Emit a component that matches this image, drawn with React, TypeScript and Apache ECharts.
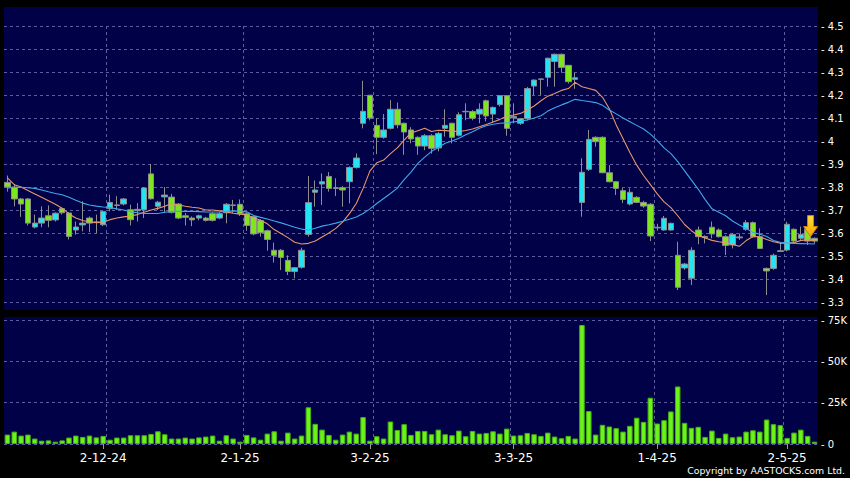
import React, { useEffect, useRef } from "react";
import * as echarts from "echarts";

// [open, close, low, high]
const candles: number[][] = [
  [3.82, 3.8, 3.78, 3.85], [3.8, 3.748, 3.716, 3.813], [3.748, 3.726, 3.67, 3.752], [3.748, 3.643, 3.633, 3.752],
  [3.626, 3.643, 3.62, 3.68], [3.643, 3.665, 3.625, 3.716], [3.675, 3.655, 3.625, 3.72], [3.657, 3.686, 3.65, 3.69],
  [3.706, 3.688, 3.68, 3.71], [3.687, 3.585, 3.572, 3.69], [3.613, 3.626, 3.593, 3.65], [3.635, 3.643, 3.607, 3.738],
  [3.665, 3.643, 3.604, 3.672], [3.645, 3.648, 3.6, 3.68], [3.636, 3.694, 3.63, 3.696], [3.706, 3.733, 3.694, 3.767],
  [3.72, 3.722, 3.7, 3.76], [3.726, 3.748, 3.72, 3.752], [3.701, 3.658, 3.633, 3.723], [3.697, 3.703, 3.65, 3.73],
  [3.701, 3.796, 3.665, 3.8], [3.857, 3.749, 3.745, 3.9], [3.716, 3.734, 3.7, 3.74], [3.757, 3.765, 3.687, 3.8],
  [3.756, 3.69, 3.685, 3.77], [3.726, 3.665, 3.66, 3.73], [3.675, 3.668, 3.633, 3.687], [3.665, 3.657, 3.63, 3.672],
  [3.665, 3.675, 3.655, 3.68], [3.665, 3.655, 3.65, 3.67], [3.684, 3.655, 3.65, 3.69], [3.665, 3.684, 3.66, 3.69],
  [3.688, 3.725, 3.642, 3.73], [3.72, 3.722, 3.686, 3.744], [3.725, 3.684, 3.674, 3.746], [3.684, 3.633, 3.61, 3.69],
  [3.671, 3.596, 3.59, 3.675], [3.654, 3.601, 3.584, 3.66], [3.61, 3.572, 3.523, 3.615], [3.525, 3.503, 3.471, 3.558],
  [3.525, 3.494, 3.439, 3.53], [3.481, 3.433, 3.417, 3.503], [3.433, 3.449, 3.403, 3.452], [3.451, 3.525, 3.445, 3.536],
  [3.594, 3.732, 3.584, 3.848], [3.777, 3.787, 3.714, 3.828], [3.813, 3.823, 3.722, 3.859], [3.846, 3.794, 3.78, 3.865],
  [3.794, 3.797, 3.761, 3.838], [3.797, 3.787, 3.714, 3.804], [3.823, 3.885, 3.729, 3.89], [3.885, 3.926, 3.88, 3.946],
  [4.077, 4.129, 4.055, 4.262], [4.199, 4.1, 4.09, 4.2], [4.068, 4.016, 3.943, 4.099], [4.016, 4.048, 4.01, 4.117],
  [4.055, 4.138, 4.05, 4.178], [4.138, 4.07, 4.055, 4.167], [4.077, 4.039, 3.94, 4.08], [4.048, 4.009, 3.99, 4.06],
  [4.016, 3.978, 3.94, 4.02], [3.978, 4.023, 3.96, 4.03], [4.023, 3.968, 3.945, 4.03], [3.97, 4.033, 3.955, 4.04],
  [4.055, 4.068, 4.019, 4.138], [4.077, 4.016, 3.99, 4.08], [4.025, 4.114, 4.02, 4.125], [4.127, 4.129, 4.09, 4.164],
  [4.128, 4.099, 4.09, 4.135], [4.117, 4.138, 4.077, 4.164], [4.175, 4.109, 4.085, 4.18], [4.117, 4.146, 4.08, 4.15],
  [4.158, 4.197, 4.15, 4.2], [4.197, 4.055, 4.023, 4.2], [4.101, 4.107, 4.077, 4.164], [4.077, 4.097, 4.07, 4.1],
  [4.097, 4.228, 4.09, 4.235], [4.239, 4.265, 4.2, 4.268], [4.268, 4.27, 4.2, 4.272], [4.277, 4.36, 4.236, 4.362],
  [4.346, 4.377, 4.236, 4.38], [4.377, 4.32, 4.297, 4.38], [4.329, 4.258, 4.25, 4.33], [4.268, 4.275, 4.227, 4.297],
  [3.733, 3.864, 3.671, 3.925], [3.877, 4.007, 3.87, 4.048], [4.016, 3.997, 3.975, 4.02], [4.016, 3.862, 3.86, 4.02],
  [3.862, 3.823, 3.82, 3.895], [3.823, 3.794, 3.765, 3.826], [3.784, 3.746, 3.73, 3.795], [3.726, 3.777, 3.72, 3.794],
  [3.755, 3.733, 3.73, 3.76], [3.733, 3.717, 3.71, 3.74], [3.725, 3.587, 3.565, 3.73], [3.622, 3.625, 3.61, 3.64],
  [3.613, 3.664, 3.61, 3.674], [3.613, 3.642, 3.61, 3.645], [3.503, 3.364, 3.352, 3.562], [3.448, 3.465, 3.44, 3.47],
  [3.403, 3.525, 3.374, 3.538], [3.613, 3.584, 3.551, 3.628], [3.585, 3.58, 3.555, 3.59], [3.625, 3.596, 3.577, 3.65],
  [3.613, 3.584, 3.58, 3.62], [3.584, 3.546, 3.504, 3.59], [3.548, 3.594, 3.533, 3.6], [3.579, 3.583, 3.57, 3.598],
  [3.616, 3.645, 3.61, 3.656], [3.645, 3.584, 3.58, 3.65], [3.584, 3.533, 3.53, 3.62], [3.446, 3.435, 3.33, 3.45],
  [3.446, 3.503, 3.44, 3.51], [3.52, 3.523, 3.519, 3.558], [3.526, 3.638, 3.52, 3.649], [3.616, 3.565, 3.56, 3.62],
  [3.577, 3.594, 3.57, 3.628], [3.616, 3.565, 3.548, 3.62], [3.577, 3.565, 3.553, 3.58],
];

const volumes: number[] = [
  5700, 7500, 5100, 5700, 3300, 2000, 2200, 1400, 2200, 3900,
  5100, 4300, 5100, 4000, 4900, 2600, 3900, 3900, 5300, 5300,
  5300, 6100, 7700, 5900, 3300, 3300, 3900, 3300, 4000, 4500,
  5100, 2000, 5300, 3300, 1400, 5500, 4000, 2600, 6300, 7700,
  2000, 6900, 3300, 5100, 22200, 12200, 8700, 5500, 2600, 5700,
  7500, 6300, 16300, 2000, 4700, 3300, 13600, 8500, 12000, 5500,
  7900, 7900, 5900, 8700, 5900, 5300, 8100, 4700, 7900, 6300,
  6700, 7700, 6300, 9300, 5100, 5300, 6700, 5900, 4900, 6900,
  4500, 3500, 4900, 3300, 72000, 19900, 5700, 11600, 10600, 9600,
  7500, 11000, 15900, 13400, 28000, 12400, 14400, 19700, 34800, 12800,
  9800, 10400, 4300, 8100, 3700, 6300, 4100, 4500, 7500, 8300,
  7500, 14800, 12000, 11400, 3700, 6900, 8700, 4900, 1400,
];

const maShort: number[] = [
  3.84, 3.81, 3.8, 3.785, 3.77, 3.755, 3.74, 3.725, 3.708, 3.683,
  3.665, 3.654, 3.648, 3.646, 3.647, 3.658, 3.665, 3.67, 3.674, 3.68,
  3.69, 3.7, 3.707, 3.716, 3.728, 3.722, 3.716, 3.712, 3.709, 3.7,
  3.7, 3.697, 3.692, 3.686, 3.682, 3.678, 3.666, 3.655, 3.64, 3.615,
  3.598, 3.58, 3.56, 3.552, 3.555, 3.565, 3.583, 3.6, 3.62, 3.647,
  3.684, 3.728, 3.794, 3.87, 3.905, 3.917, 3.945, 3.97, 4.004, 4.035,
  4.045, 4.055, 4.041, 4.047, 4.045, 4.043, 4.041, 4.046, 4.052, 4.062,
  4.072, 4.083, 4.094, 4.109, 4.113, 4.12, 4.135, 4.152, 4.175, 4.195,
  4.207, 4.22, 4.228, 4.255, 4.236, 4.228, 4.22, 4.19, 4.14, 4.07,
  4.01, 3.95, 3.895, 3.85, 3.81, 3.77, 3.735, 3.71, 3.675, 3.637,
  3.61, 3.588, 3.578, 3.568, 3.562, 3.558, 3.55, 3.542, 3.567, 3.585,
  3.584, 3.572, 3.562, 3.556, 3.556, 3.558, 3.568, 3.57, 3.567,
];

const maLong: number[] = [
  3.796, 3.798, 3.799, 3.797, 3.794, 3.787, 3.779, 3.772, 3.766, 3.755,
  3.742, 3.73, 3.722, 3.717, 3.713, 3.711, 3.705, 3.7, 3.692, 3.688,
  3.685, 3.685, 3.685, 3.69, 3.693, 3.694, 3.694, 3.694, 3.693, 3.691,
  3.691, 3.692, 3.694, 3.696, 3.695, 3.692, 3.676, 3.668, 3.661, 3.652,
  3.644, 3.635, 3.625, 3.617, 3.613, 3.621, 3.63, 3.636, 3.643, 3.651,
  3.66, 3.67, 3.685, 3.705, 3.728, 3.75, 3.772, 3.795, 3.832, 3.865,
  3.903, 3.93, 3.955, 3.972, 3.99, 4.0, 4.012, 4.027, 4.04, 4.055,
  4.066, 4.073, 4.077, 4.079, 4.083, 4.086, 4.091, 4.1, 4.11, 4.13,
  4.145, 4.157, 4.168, 4.181, 4.176, 4.172, 4.167, 4.155, 4.135, 4.118,
  4.1, 4.084, 4.068, 4.052, 4.03, 4.002, 3.97, 3.945, 3.91, 3.87,
  3.83, 3.79, 3.745, 3.705, 3.69, 3.675, 3.652, 3.635, 3.62, 3.602,
  3.595, 3.585, 3.567, 3.56, 3.557, 3.555, 3.554, 3.553, 3.552,
];

const holidays = [
  "2024-12-25", "2024-12-26", "2025-01-01", "2025-01-29", "2025-01-30", "2025-01-31",
  "2025-04-04", "2025-04-18", "2025-04-21", "2025-05-01", "2025-05-05",
];

function tradingDays(startIso: string, count: number): string[] {
  const out: string[] = [];
  const d = new Date(startIso + "T00:00:00Z");
  while (out.length < count) {
    const dow = d.getUTCDay();
    const iso = d.toISOString().slice(0, 10);
    if (dow !== 0 && dow !== 6 && !holidays.includes(iso)) {
      out.push(`${d.getUTCDate()}-${d.getUTCMonth() + 1}-${String(d.getUTCFullYear()).slice(2)}`);
    }
    d.setUTCDate(d.getUTCDate() + 1);
  }
  return out;
}

const dates = tradingDays("2024-11-11", candles.length);

const xTickLabels = ["2-12-24", "2-1-25", "3-2-25", "3-3-25", "1-4-25", "2-5-25"];
const xTickIndex = [14, 34, 53, 74, 95, 114];
// vertical grid lines sit on the boundary just before these categories
const xGridIndex = [15, 35, 54, 74, 95, 114];

const priceMin = 3.3;
const priceMax = 4.5;
const priceStep = 0.1;
const volMax = 75000;
const volStep = 25000;

const FONT = "DejaVu Sans";
const NAVY = "#010147";
const GRID_LINE = "#5c5c9e";

export default function App() {
  const ref = useRef<HTMLDivElement>(null);

  useEffect(() => {
    document.body.style.margin = "0";
    document.body.style.background = "#000";
    if (!ref.current) return;
    const chart = echarts.init(ref.current, undefined, { renderer: "svg" });

    const gridSplit = () => ({
      show: true,
      lineStyle: { color: GRID_LINE, type: [3, 3] as number[], width: 1 },
    });

    // band-unit value axis laid over each category axis: value k sits on category k's centre
    const boundaryAxis = (gridIndex: number) => ({
      type: "value", gridIndex, position: "top",
      min: -0.5, max: candles.length - 0.5,
      axisLine: { show: false },
      axisTick: { show: false, customValues: xGridIndex.map((i) => i - 0.5) },
      axisLabel: { show: false },
      splitLine: gridSplit(),
    });

    const baseGraphics = [
      { type: "rect", z: -10, silent: true, shape: { x: 4, y: 7, width: 814, height: 303 }, style: { fill: NAVY } },
      { type: "rect", z: -10, silent: true, shape: { x: 4, y: 317, width: 814, height: 128 }, style: { fill: NAVY } },
      {
        type: "text", right: 5, bottom: 3,
        style: { text: "Copyright by AASTOCKS.com Ltd.", fill: "#ffffff", font: `9.4px "${FONT}"` },
      },
    ];

    chart.setOption({
      animation: false,
      backgroundColor: "#000000",
      textStyle: { fontFamily: FONT },
      graphic: baseGraphics,
      grid: [
        { left: 4, right: 32, top: 26, height: 276 },
        { left: 4, right: 32, top: 320, height: 124 },
      ],
      xAxis: [
        {
          type: "category", gridIndex: 0, data: dates, boundaryGap: true,
          axisLine: { show: false }, axisTick: { show: false }, axisLabel: { show: false },
          splitLine: { show: false },
        },
        {
          type: "category", gridIndex: 1, data: dates, boundaryGap: true,
          axisLine: { show: false },
          axisTick: {
            show: true, alignWithLabel: true, length: 5,
            interval: (i: number) => xTickIndex.includes(i),
            lineStyle: { color: "#9a9a9a" },
          },
          axisLabel: {
            show: true, color: "#ffffff", fontSize: 12, fontFamily: FONT, margin: 8,
            interval: (i: number) => xTickIndex.includes(i),
            formatter: (_v: string, i: number) => {
              const k = xTickIndex.indexOf(i);
              return k >= 0 ? xTickLabels[k] : "";
            },
          },
          splitLine: { show: false },
        },
        boundaryAxis(0),
        boundaryAxis(1),
      ],
      yAxis: [
        {
          type: "value", gridIndex: 0, position: "right", min: priceMin, max: priceMax, interval: priceStep,
          axisLine: { show: false }, axisTick: { show: false },
          axisLabel: {
            color: "#ffffff", fontSize: 10, fontFamily: FONT, margin: 3,
            formatter: (v: number) => "- " + String(Math.round(v * 10) / 10),
          },
          splitLine: gridSplit(),
        },
        {
          type: "value", gridIndex: 1, position: "right", min: 0, max: volMax, interval: volStep,
          axisLine: { show: false }, axisTick: { show: false },
          axisLabel: {
            color: "#ffffff", fontSize: 10, fontFamily: FONT, margin: 3,
            formatter: (v: number) => "- " + (v === 0 ? "0" : v / 1000 + "K"),
          },
          splitLine: gridSplit(),
        },
      ],
      series: [
        {
          type: "candlestick", xAxisIndex: 0, yAxisIndex: 0, data: candles, barWidth: 6, z: 3,
          itemStyle: {
            color: "#22e4f2", color0: "#7ee61c",
            borderColor: "#8e8e8e", borderColor0: "#8e8e8e", borderWidth: 1,
          },
        },
        {
          type: "line", xAxisIndex: 0, yAxisIndex: 0, data: maShort, symbol: "none", z: 4,
          lineStyle: { color: "#e8966c", width: 1.1 },
        },
        {
          type: "line", xAxisIndex: 0, yAxisIndex: 0, data: maLong, symbol: "none", z: 4,
          lineStyle: { color: "#3ea8e8", width: 1.1 },
        },
        {
          type: "bar", xAxisIndex: 1, yAxisIndex: 1, data: volumes, barWidth: 5.5,
          itemStyle: { color: "#6cf31a", borderColor: "#45b012", borderWidth: 1 },
        },
      ],
    });

    const last = candles.length - 1;
    const [px, py] = chart.convertToPixel({ xAxisIndex: 0, yAxisIndex: 0 }, [last, candles[last][3]]) as number[];
    const cx = px - 4;
    const tip = py - 1;
    chart.setOption({
      graphic: [
        ...baseGraphics,
        {
          type: "polygon", z: 10,
          shape: {
            points: [
              [cx - 3, tip - 21], [cx + 3, tip - 21], [cx + 3, tip - 10], [cx + 7, tip - 10],
              [cx, tip], [cx - 7, tip - 10], [cx - 3, tip - 10],
            ],
          },
          style: {
            fill: new echarts.graphic.LinearGradient(0, 0, 0, 1, [
              { offset: 0, color: "#ffe23a" },
              { offset: 1, color: "#f5a400" },
            ]),
            stroke: "#d98200", lineWidth: 1,
          },
        },
      ],
    });

    return () => chart.dispose();
  }, []);

  return <div ref={ref} style={{ width: 850, height: 478, background: "#000" }} />;
}
